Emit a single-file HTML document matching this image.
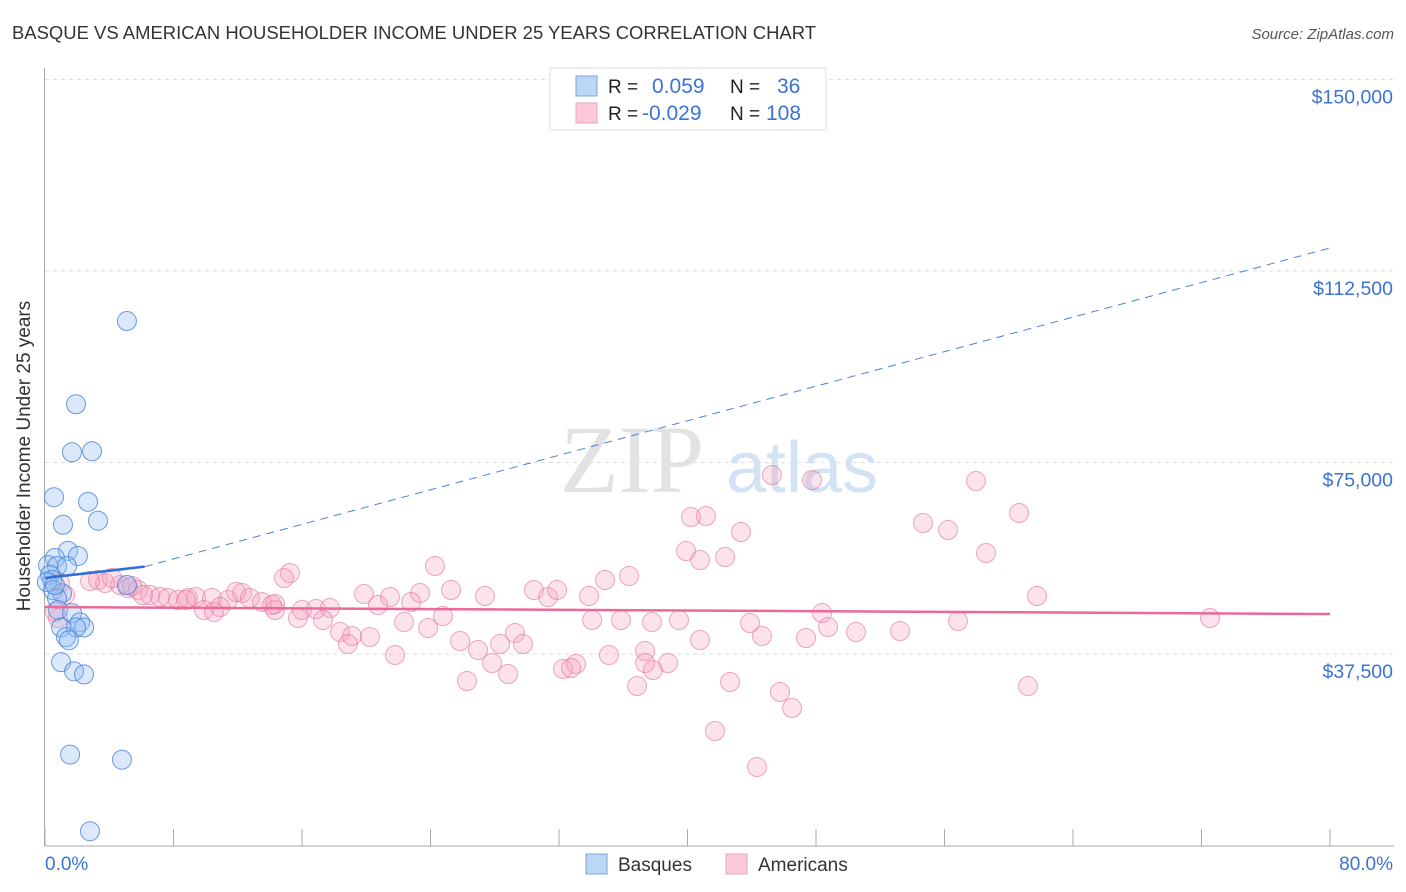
<!DOCTYPE html>
<html><head><meta charset="utf-8">
<style>
body{margin:0;background:#fff;font-family:"Liberation Sans",sans-serif;}
svg{display:block}
</style></head>
<body>
<svg id="chart" width="1406" height="892" xmlns="http://www.w3.org/2000/svg">
<text x="12" y="39" font-size="18.5" fill="#333" textLength="804" lengthAdjust="spacingAndGlyphs">BASQUE VS AMERICAN HOUSEHOLDER INCOME UNDER 25 YEARS CORRELATION CHART</text>
<text x="1394" y="39" font-size="15" fill="#555" text-anchor="end" font-style="italic">Source: ZipAtlas.com</text>
<text x="30" y="456" font-size="19" fill="#333" text-anchor="middle" transform="rotate(-90 30 456)">Householder Income Under 25 years</text>
<g id="grid"></g>
<g id="axes"></g>
<text x="632" y="492" font-size="96" fill="#e2e2e2" font-family="Liberation Serif" text-anchor="middle">ZIP</text>
<text x="802" y="492" font-size="72" fill="#d3e3f5" text-anchor="middle">atlas</text>
<g id="pts"></g>
<g id="trends"></g>
<g>
<rect x="550" y="68" width="276" height="62" fill="#fff" stroke="#ddd"/>
<rect x="576" y="76" width="21" height="20" fill="#bcd6f5" stroke="#7aa7e0"/>
<rect x="576" y="103" width="21" height="20" fill="#fbc9d8" stroke="#eea3bb"/>
<text x="608" y="93" font-size="19" fill="#222">R = </text><text x="652" y="93" font-size="21" fill="#3a74d0">0.059</text>
<text x="730" y="93" font-size="19" fill="#222">N = </text><text x="777" y="93" font-size="21" fill="#3a74d0">36</text>
<text x="608" y="120" font-size="19" fill="#222">R = </text><text x="642" y="120" font-size="21" fill="#3a74d0">-0.029</text>
<text x="730" y="120" font-size="19" fill="#222">N = </text><text x="766" y="120" font-size="21" fill="#3a74d0">108</text>
</g>
<g>
<rect x="586" y="854" width="21" height="20" fill="#bcd6f5" stroke="#7aa7e0"/>
<text x="618" y="871" font-size="19" fill="#333">Basques</text>
<rect x="726" y="854" width="21" height="20" fill="#fbc9d8" stroke="#eea3bb"/>
<text x="758" y="871" font-size="19" fill="#333">Americans</text>
</g>
</svg>
<script>
const yTicks=[37500,75000,112500,150000];
const yTickLabels=["$37,500","$75,000","$112,500","$150,000"];
const xTickCount=10;
const xRange=[0,80];
const xLabels=["0.0%","80.0%"];
const basqueX=[5.1,1.93,1.68,2.93,0.56,2.68,1.12,3.3,1.43,0.62,2.05,0.19,0.75,1.37,0.31,0.44,0.12,0.5,1.06,0.75,0.81,1.68,2.18,2.43,1.0,1.93,1.31,1.49,1.0,1.81,2.43,1.56,4.79,2.8,5.1,0.62];
const basqueY=[102700,86400,77000,77200,68200,67300,62800,63600,57700,56300,56700,54900,54700,54700,53000,52000,51600,50000,49400,48400,46100,45500,43700,42700,42700,42700,40800,40200,35900,34100,33500,17800,16800,2800,51000,51000];
const amerX=[45.26,47.75,57.96,40.22,41.15,60.64,54.66,56.22,43.33,39.91,42.34,58.59,24.28,15.25,14.88,36.36,34.87,3.3,3.74,4.67,5.17,5.79,6.54,7.16,7.66,8.28,8.9,9.4,10.4,11.39,12.27,11.89,12.76,13.51,14.32,10.9,9.9,10.52,14.32,16.0,16.87,17.74,19.86,21.48,23.35,25.28,27.39,30.44,31.32,31.88,33.87,35.86,37.79,39.47,40.78,43.89,44.64,47.38,48.38,48.75,50.49,53.23,56.84,61.76,72.53,20.73,22.79,24.78,22.35,23.85,15.75,17.31,18.37,19.11,20.23,18.86,25.84,26.96,28.33,29.26,29.76,21.79,27.83,28.83,32.25,33.06,32.75,35.11,37.36,37.36,38.79,37.85,26.27,36.86,42.65,45.76,46.51,61.2,41.71,44.33,2.8,1.25,0.81,0.93,0.62,4.17,5.42,6.1,8.78,14.13,34.06,40.78];
const amerY=[72540,71560,71370,64320,64520,65100,63150,61770,61380,57660,56490,57270,54730,53360,52380,52770,51980,51980,51400,51010,50420,50030,49050,48660,48460,48070,48460,48660,48460,48070,49440,49640,48460,47680,47290,46700,46110,45720,46110,46110,46310,46500,49240,48660,49440,50030,48850,50030,48660,50030,48850,44150,43760,44150,40240,43570,41020,40630,45520,42780,41800,42000,43960,48850,44540,47090,47680,44940,43760,42590,44540,44150,41800,41020,40820,39450,40040,38280,39450,41610,39450,37300,35730,33580,34560,35540,34750,37300,38080,35730,35730,34360,32210,31230,32010,30060,26920,31230,22420,15370,51790,49050,44540,51400,45720,52380,50810,49050,48070,47090,44150,55900];
const basqueTrendX=[0,6.2,80];
const basqueTrendY=[52380,54600,117000];
const amerTrendX=[0,80];
const amerTrendY=[46700,45330];

const NS="http://www.w3.org/2000/svg";
const X0=45,X1=1330,YB=845.5,PXPER=191.5/37500;
const sx=v=>X0+(v-xRange[0])/(xRange[1]-xRange[0])*(X1-X0);
const sy=v=>YB-v*PXPER;
function mk(tag,attrs,parent){const e=document.createElementNS(NS,tag);for(const k in attrs)e.setAttribute(k,attrs[k]);document.getElementById(parent).appendChild(e);return e;}
yTicks.forEach((t,i)=>{
  const l=mk('line',{x1:45,x2:1394,y1:sy(t),y2:sy(t),stroke:'#ddd','stroke-dasharray':'4,4'},'grid');
  
  
  const tx=mk('text',{x:1393,y:sy(t)+24,'font-size':19.5,fill:'#3a74d0','text-anchor':'end'},'axes');
  tx.textContent=yTickLabels[i];
  
  
});
const ax=mk('line',{x1:44.5,x2:44.5,y1:68,y2:846,stroke:'#aaa'},'axes');


const bx=mk('line',{x1:45,x2:1394,y1:846,y2:846,stroke:'#aaa'},'axes');


for(let i=0;i<=xTickCount;i++){
  const v=xRange[0]+i*(xRange[1]-xRange[0])/xTickCount;
  const t=mk('line',{x1:sx(v),x2:sx(v),y1:829,y2:846,stroke:'#aaa'},'axes');
  
  
}
const xl0=mk('text',{x:45,y:870,'font-size':19,fill:'#3a74d0'},'axes');xl0.textContent=xLabels[0];


const xl1=mk('text',{x:1393,y:870,'font-size':19,fill:'#3a74d0','text-anchor':'end'},'axes');xl1.textContent=xLabels[1];


amerX.forEach((x,i)=>{
  const c=mk('circle',{cx:sx(x),cy:sy(amerY[i]),r:9.5,fill:'rgba(244,160,188,0.3)',stroke:'rgba(228,120,158,0.65)','stroke-width':1},'pts');
  
  
});
basqueX.forEach((x,i)=>{
  const c=mk('circle',{cx:sx(x),cy:sy(basqueY[i]),r:9.5,fill:'rgba(150,190,240,0.35)',stroke:'rgba(70,130,215,0.8)','stroke-width':1},'pts');
  
  
});
const bs=mk('line',{x1:sx(basqueTrendX[0]),y1:sy(basqueTrendY[0]),x2:sx(basqueTrendX[1]),y2:sy(basqueTrendY[1]),stroke:'#2f6fd6','stroke-width':2.5},'trends');


const bd=mk('line',{x1:sx(basqueTrendX[1]),y1:sy(basqueTrendY[1]),x2:sx(basqueTrendX[2]),y2:sy(basqueTrendY[2]),stroke:'#4a82d8','stroke-width':1,'stroke-dasharray':'8,6'},'trends');


const at=mk('line',{x1:sx(amerTrendX[0]),y1:sy(amerTrendY[0]),x2:sx(amerTrendX[1]),y2:sy(amerTrendY[1]),stroke:'#e8699a','stroke-width':2.5},'trends');


</script>
</body></html>
